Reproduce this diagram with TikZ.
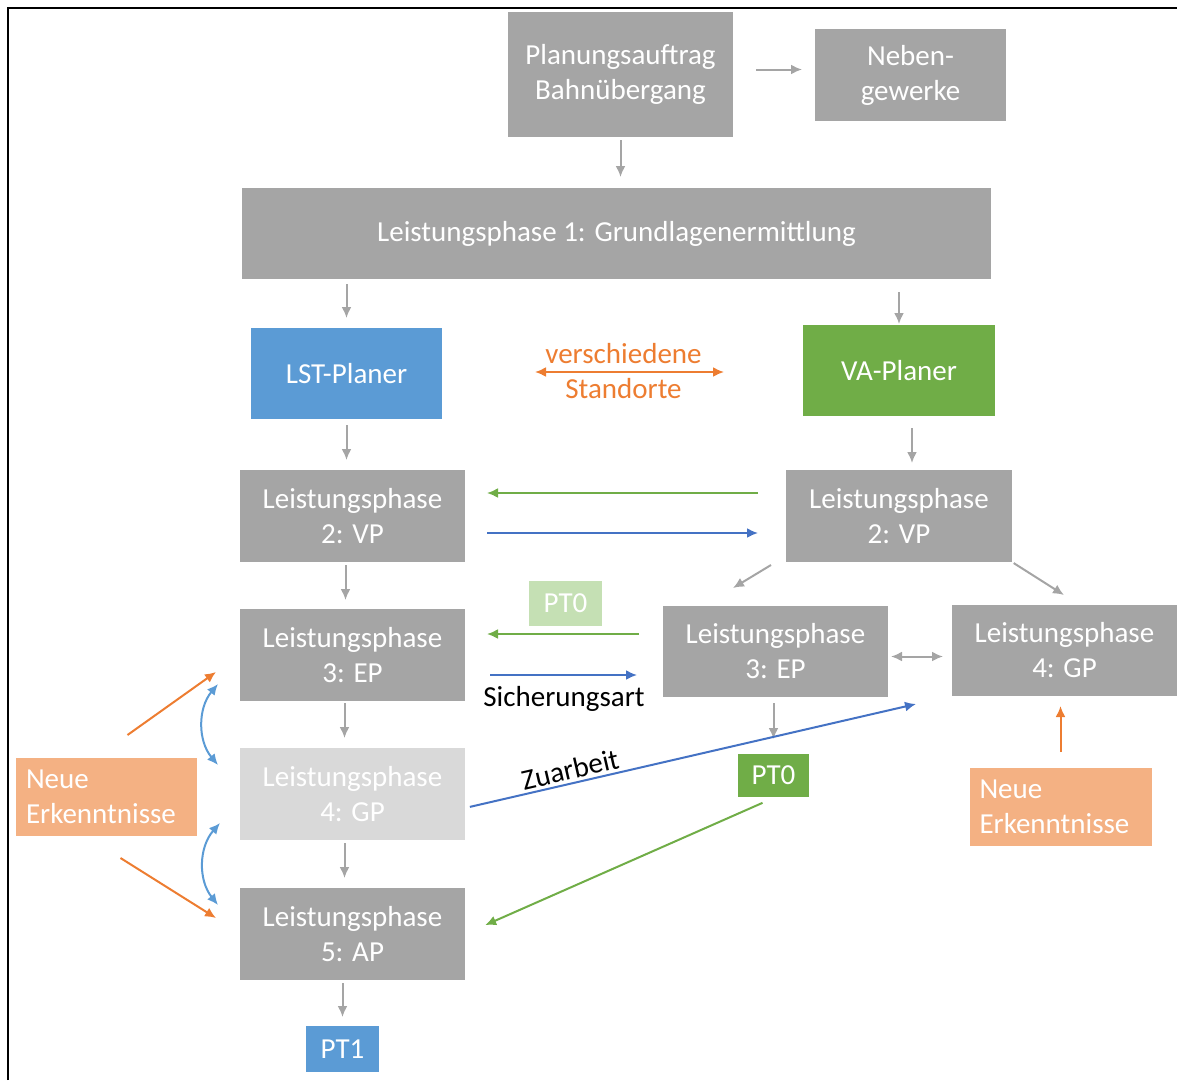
\documentclass[tikz,border=0pt]{standalone}
\usepackage{fontspec}
\setmainfont{Carlito}
\usetikzlibrary{arrows.meta,positioning}

\definecolor{boxgrey}{HTML}{A5A5A5}
\definecolor{palegrey}{HTML}{D9D9D9}
\definecolor{lstblue}{HTML}{5B9BD5}
\definecolor{lineblue}{HTML}{4472C4}
\definecolor{vagreen}{HTML}{70AD47}
\definecolor{palegreen}{HTML}{C5E0B4}
\definecolor{siteorange}{HTML}{ED7D31}
\definecolor{noteorange}{HTML}{F4B183}

\begin{document}
\begin{tikzpicture}[>={Latex[length=11pt,width=10pt]},x=1pt,y=-1pt,line width=2pt,
    font=\fontsize{29}{35}\selectfont]
    \tikzstyle{phase}=[fill=boxgrey,text=white,align=center,inner sep=0pt,outer sep=0pt,
      minimum width=225pt,minimum height=92pt]
    \tikzstyle{tag}=[text=white,inner sep=0pt,minimum width=73pt,minimum height=45pt]
    \tikzstyle{note}=[fill=noteorange,text=white,align=left,text width=161pt,
      inner xsep=10pt,minimum height=78pt]
    \tikzstyle{conn}=[->,draw=boxgrey]

    \useasboundingbox (0,0) rectangle (1177,1080);
    \draw[line width=2pt] (8,1080) -- (8,8) -- (1177,8);

    \node[phase,minimum height=125pt] (plan) at (620.5,74.5) {Planungsauftrag\\Bahnübergang};
    \node[phase,minimum width=191pt] (neben) at (910.5,75) {Neben-\\gewerke};
    \node[phase,minimum width=749pt,minimum height=91pt] (lp1) at (616.5,233.5)
      {Leistungsphase 1: Grundlagenermittlung};
    \node[phase,fill=lstblue,minimum width=191pt,minimum height=91pt] (lst) at (346.5,373.5) {LST-Planer};
    \node[phase,fill=vagreen,minimum width=192pt,minimum height=91pt] (va) at (899,370.5) {VA-Planer};

    \node[phase] (lp2l) at (352.5,516) {Leistungsphase\\2: VP};
    \node[phase] (lp3l) [below=47pt of lp2l] {Leistungsphase\\3: EP};
    \node[phase,fill=palegrey] (lp4l) [below=47pt of lp3l] {Leistungsphase\\4: GP};
    \node[phase] (lp5) [below=48pt of lp4l] {Leistungsphase\\5: AP};
    \node[tag,fill=lstblue,minimum height=46pt] (pt1) at (342.5,1049) {PT1};

    \node[phase,minimum width=226pt] (lp2r) at (899,516) {Leistungsphase\\2: VP};
    \node[phase,minimum height=91pt] (lp3r) at (775.5,651.5) {Leistungsphase\\3: EP};
    \node[phase,minimum height=91pt] (lp4r) at (1064.5,650.5) {Leistungsphase\\4: GP};

    \node[tag,fill=palegreen] (pt0a) at (565.5,603.5) {PT0};
    \node[tag,fill=vagreen,minimum width=71pt,minimum height=43pt] (pt0b) at (773.5,775.5) {PT0};

    \node[note] (neue1) at (106.5,797) {Neue\\Erkenntnisse};
    \node[note,text width=162pt] (neue2) at (1060.5,807) {Neue\\Erkenntnisse};

    % grey flow
    \draw[conn,shorten <=23pt,shorten >=13pt] ([yshift=5pt]plan.east) -- ([yshift=5pt]plan.east -| neben.west);
    \draw[conn,shorten <=3pt,shorten >=11pt] (plan.south) -- (plan.south |- lp1.north);
    \draw[conn,shorten <=5pt,shorten >=10pt] (lst.north |- lp1.south) -- (lst.north);
    \draw[conn,shorten <=13pt,shorten >=1pt] (va.north |- lp1.south) -- (va.north);
    \draw[conn,shorten <=6pt,shorten >=10pt] (lst.south) -- (lst.south |- lp2l.north);
    \draw[conn,shorten <=12pt,shorten >=7pt] ([xshift=13pt]va.south) -- ([xshift=13pt]lp2r.north);
    \draw[conn,shorten <=3pt,shorten >=9pt] ([xshift=-7pt]lp2l.south) -- ([xshift=-7pt]lp3l.north);
    \draw[conn,shorten <=2pt,shorten >=10pt] ([xshift=-8pt]lp3l.south) -- ([xshift=-8pt]lp4l.north);
    \draw[conn,shorten <=3pt,shorten >=10pt] ([xshift=-8pt]lp4l.south) -- ([xshift=-8pt]lp5.north);
    \draw[conn,shorten <=3pt,shorten >=8pt] (pt1.north |- lp5.south) -- (pt1.north);
    \draw[conn] ([xshift=-15pt,yshift=-3pt]lp2r.south west) -- +(-38,23);
    \draw[conn,shorten <=2pt] (lp2r.south east) -- +(52,33);
    \draw[conn,<->,shorten <=3pt,shorten >=9pt] ([yshift=-5pt]lp3r.east) -- ([yshift=-5pt]lp3r.east -| lp4r.west);
    \draw[conn,shorten <=6pt,shorten >=14pt] (pt0b.north |- lp3r.south) -- (pt0b.north);

    % exchange between planners
    \draw[<->,draw=siteorange,text=siteorange,shorten <=93pt,shorten >=79pt]
      ([yshift=1.5pt]lst.east) -- ([yshift=1.5pt]lst.east -| va.west)
      node[midway,above,inner sep=7pt,xshift=1pt] {verschiedene}
      node[midway,below,inner sep=5pt,xshift=1pt] {Standorte};
    \draw[->,draw=vagreen,shorten <=28pt,shorten >=22pt] ([yshift=23pt]lp2r.west) -- ([yshift=23pt]lp2l.east);
    \draw[->,draw=lineblue,shorten <=22pt,shorten >=28pt] ([yshift=-17pt]lp2l.east) -- ([yshift=-17pt]lp2l.east -| lp2r.west);
    \draw[->,draw=vagreen,shorten <=24pt,shorten >=22pt] ([yshift=21pt]lp3l.east -| lp3r.west) -- ([yshift=21pt]lp3l.east);
    \draw[->,draw=lineblue,shorten <=25pt,shorten >=26pt] ([yshift=-20pt]lp3l.east) -- ([yshift=-20pt]lp3l.east -| lp3r.west)
      node[midway,below,inner sep=10pt] {Sicherungsart};
    \draw[->,draw=lineblue,shorten <=5pt] ([yshift=-14pt]lp4l.east) -- ([shift={(-36pt,-8pt)}]lp4r.south west)
      node[pos=0.24,sloped,above,inner sep=3pt] {Zuarbeit};
    \draw[->,draw=vagreen,shorten <=12pt,shorten >=22pt] (pt0b.south) -- (lp5.east);

    % new findings
    \draw[->,draw=siteorange,shorten <=15pt,shorten >=10pt] (neue2.north) -- (neue2.north |- lp4r.south);
    \draw[->,draw=siteorange] ([xshift=21pt,yshift=22pt]neue1.north) -- ([shift={(-24pt,-17pt)}]lp3l.west);
    \draw[->,draw=siteorange] ([xshift=14pt,yshift=-21pt]neue1.south) -- ([shift={(-24pt,16pt)}]lp5.west);
    \draw[<->,draw=lstblue] ([shift={(-22pt,17pt)}]lp3l.south west) to[bend right=40] ([shift={(-22pt,-17pt)}]lp4l.north west);
    \draw[<->,draw=lstblue] ([shift={(-20pt,17pt)}]lp4l.south west) to[bend right=40] ([shift={(-22pt,-17pt)}]lp5.north west);

\end{tikzpicture}
\end{document}
